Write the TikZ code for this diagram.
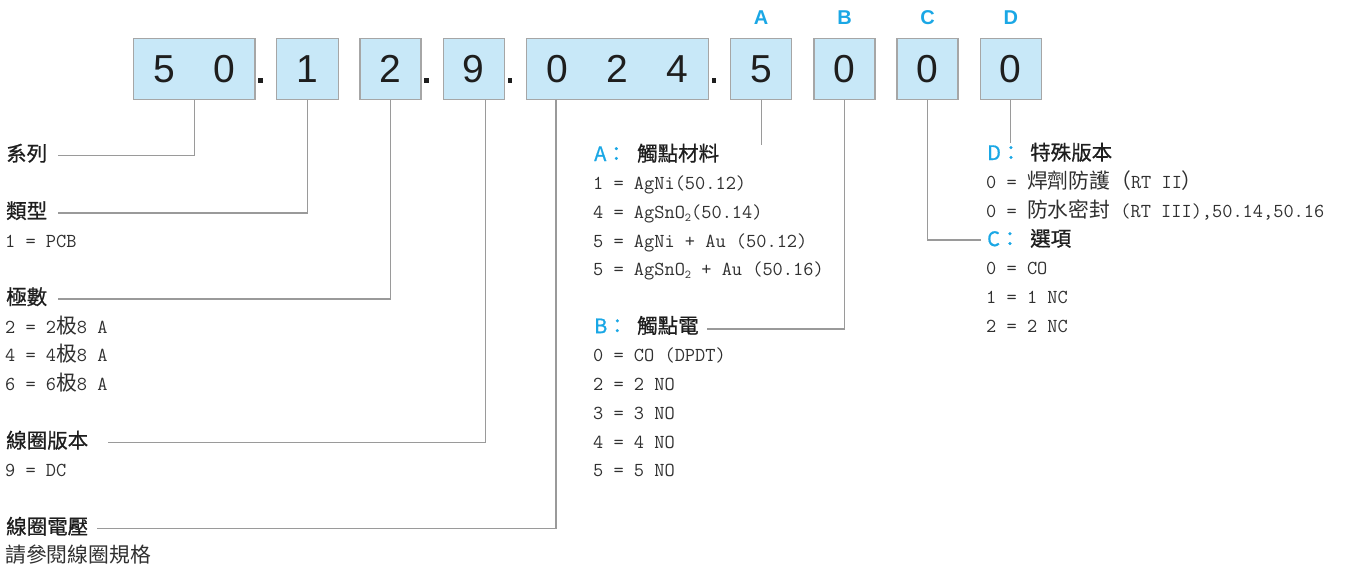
\documentclass[tikz,border=0pt]{standalone}
\usepackage{fontspec}
\setmainfont{Liberation Sans}
\newfontfamily\cjk{Noto Sans CJK TC}
\newfontfamily\cjkh{Noto Sans CJK TC}[FakeBold=0.8]
\newcommand\zh[1]{{\cjk\fontsize{20.8}{24}\selectfont #1}}
\newcommand\subtwo{\raisebox{-3pt}{\fontsize{12}{12}\selectfont 2}}
\definecolor{boxfill}{HTML}{C8E8F8}
\definecolor{boxline}{HTML}{A6A6A6}
\definecolor{conn}{HTML}{9A9A9A}
\definecolor{cblue}{HTML}{1AA7E5}
\definecolor{txt}{HTML}{303030}
\definecolor{head}{HTML}{1E1E1E}
\tikzset{
  codebox/.style={draw=boxline, fill=boxfill, line width=1.3pt, minimum height=61pt, inner sep=0pt,
    font=\fontsize{39}{40}\selectfont, text=head},
  codedot/.style={fill=head, inner sep=0pt, minimum size=4.5pt},
  letter/.style={font=\bfseries\fontsize{20}{22}\selectfont, text=cblue, inner sep=0pt},
  headtxt/.style={anchor=base west, inner sep=0pt, font=\cjkh\fontsize{20.5}{24}\selectfont, text=head},
  keytxt/.style={anchor=base west, inner sep=0pt, font=\cjkh\fontsize{20}{24}\selectfont, text=cblue},
  body/.style={anchor=base west, inner sep=0pt, font=\ttfamily\fontsize{19.8}{24}\selectfont, text=txt},
  connector/.style={draw=conn, line width=1.3pt}
}
\begin{document}
\begin{tikzpicture}[x=1pt,y=-1pt]
\useasboundingbox (0,0) rectangle (1346,570);
% code boxes
\node[codebox, minimum width=121.7pt] (b50) at (194.2,68.8) {5\hspace{38pt}0};
\node[codebox, minimum width=61.6pt] (b1) at (307.5,68.8) {1};
\node[codebox, minimum width=61pt] (b2) at (390.5,68.8) {2};
\node[codebox, minimum width=61pt] (b9) at (473.8,68.8) {9};
\node[codebox, minimum width=181.6pt] (b024) at (617.5,68.8) {0\hspace{38.5pt}2\hspace{38.5pt}4};
\node[codebox, minimum width=61pt] (bA) at (761.2,68.8) {5};
\node[codebox, minimum width=61pt] (bB) at (844.5,68.8) {0};
\node[codebox, minimum width=61pt] (bC) at (927.5,68.8) {0};
\node[codebox, minimum width=61pt] (bD) at (1010.8,68.8) {0};
% dots
\node[codedot] (d1) at (260.7,80.5) {};
\node[codedot] (d2) at (426.5,80.5) {};
\node[codedot] (d3) at (510,80.5) {};
\node[codedot] (d4) at (714,80.5) {};
% letters
\node[letter] (LA) at (761.2,17.5) {A};
\node[letter] (LB) at (844.5,17.5) {B};
\node[letter] (LC) at (927.5,17.5) {C};
\node[letter] (LD) at (1010.8,17.5) {D};
% left column
\node[headtxt] (h1) at (6,161) {系列};
\node[headtxt] (h2) at (6,218.4) {類型};
\node[body] (h2a) at (5,247.1) {1 = PCB};
\node[headtxt] (h3) at (6,304.5) {極數};
\node[body] (h3a) at (5,333.2) {2 = 2\zh{极}8 A};
\node[body] (h3b) at (5,361.9) {4 = 4\zh{极}8 A};
\node[body] (h3c) at (5,390.6) {6 = 6\zh{极}8 A};
\node[headtxt] (h4) at (6,448) {線圈版本};
\node[body] (h4a) at (5,476.7) {9 = DC};
\node[headtxt] (h5) at (6,534.1) {線圈電壓};
\node[body] (h5a) at (5,562.8) {\zh{請參閱線圈規格}};
% middle column
\node[keytxt] (kA) at (594,161) {A：};
\node[headtxt] (hA) at (637,161) {觸點材料};
\node[body] (a1) at (593,189.7) {1 = AgNi(50.12)};
\node[body] (a2) at (593,218.4) {4 = AgSnO\subtwo(50.14)};
\node[body] (a3) at (593,247.1) {5 = AgNi + Au (50.12)};
\node[body] (a4) at (593,275.8) {5 = AgSnO\subtwo{} + Au (50.16)};
\node[keytxt] (kB) at (594,333.2) {B：};
\node[headtxt] (hB) at (637,333.2) {觸點電};
\node[body] (bb1) at (593,361.9) {0 = CO (DPDT)};
\node[body] (bb2) at (593,390.6) {2 = 2 NO};
\node[body] (bb3) at (593,419.3) {3 = 3 NO};
\node[body] (bb4) at (593,448) {4 = 4 NO};
\node[body] (bb5) at (593,476.7) {5 = 5 NO};
% right column
\node[keytxt] (kD) at (987,160) {D：};
\node[headtxt] (hD) at (1030,160) {特殊版本};
\node[body] (dd1) at (986,188.7) {0 = \zh{焊劑防護（}RT II\zh{）}};
\node[body] (dd2) at (986,217.4) {0 = \zh{防水密封} (RT III),50.14,50.16};
\node[keytxt] (kC) at (987,246.1) {C：};
\node[headtxt] (hC) at (1030,246.1) {選項};
\node[body] (cc1) at (986,274.8) {0 = CO};
\node[body] (cc2) at (986,303.5) {1 = 1 NC};
\node[body] (cc3) at (986,332.2) {2 = 2 NC};
% connector ends
\coordinate (e1) at (57.5,155.5);
\coordinate (e2) at (57.5,212.9);
\coordinate (e3) at (57.5,299);
\coordinate (e4) at (108,442.5);
\coordinate (e5) at (97,528.6);
\coordinate (eA) at (761.2,145);
\coordinate (eB) at (706.5,329);
\coordinate (eC) at (981,240);
\coordinate (eD) at (1010.8,143);
% connectors
\draw[connector] (b50.south) |- (e1);
\draw[connector] (b1.south) |- (e2);
\draw[connector] (b2.south) |- (e3);
\draw[connector] ([xshift=12pt]b9.south) |- (e4);
\draw[connector] ([xshift=-61.5pt]b024.south) |- (e5);
\draw[connector] (bA.south) -- (eA);
\draw[connector] (bB.south) |- (eB);
\draw[connector] (bC.south) |- (eC);
\draw[connector] (bD.south) -- (eD);
\end{tikzpicture}
\end{document}
